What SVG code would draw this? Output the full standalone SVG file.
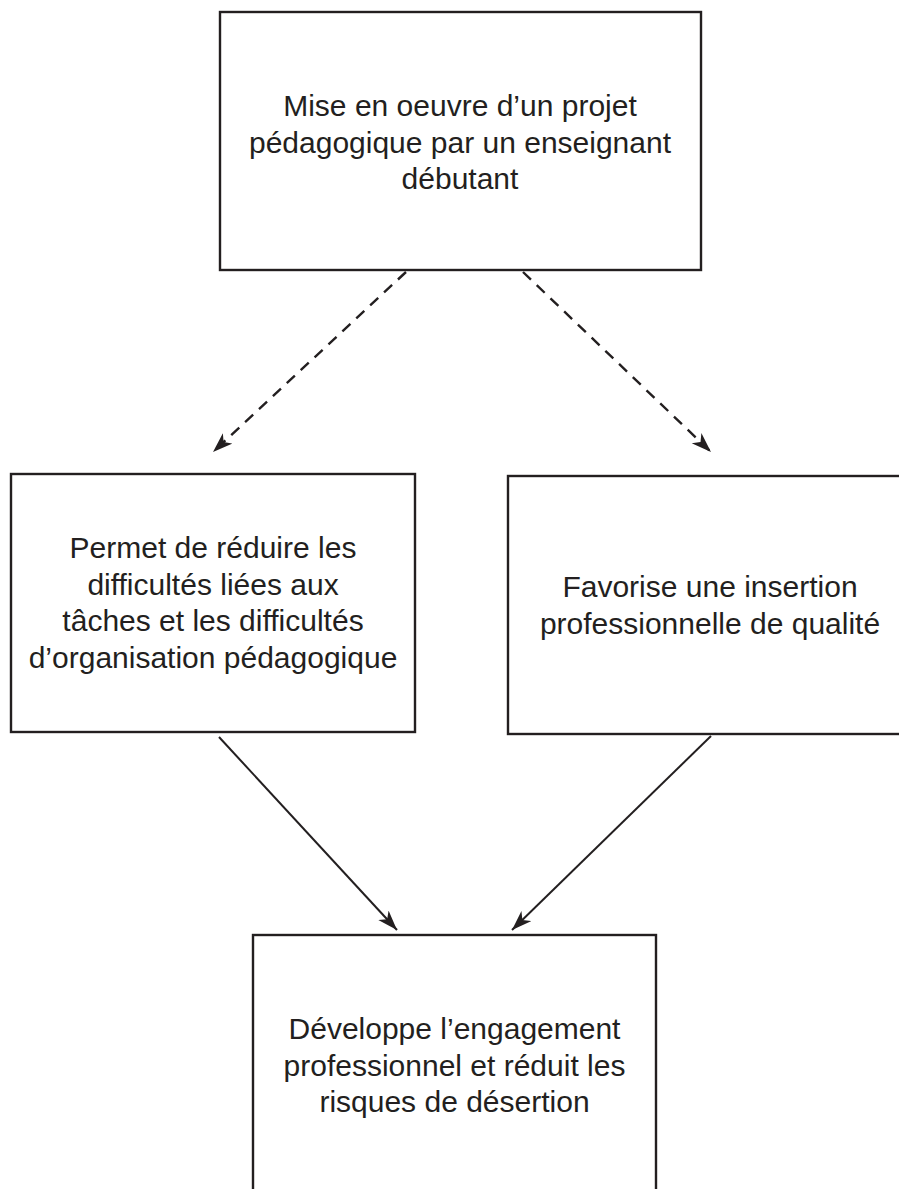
<svg xmlns="http://www.w3.org/2000/svg" width="899" height="1189" viewBox="0 0 899 1189">
<style>
.box{fill:#fff;stroke:#231f20;stroke-width:2.4}
.t{font-family:"Liberation Sans",Arial,sans-serif;font-size:30px;fill:#231f20;text-anchor:middle}
.c{fill:none;stroke:#231f20;stroke-width:2}
.d{stroke-dasharray:11 8;stroke-width:2.4}
</style>
<defs>
<marker id="ah" markerUnits="userSpaceOnUse" markerWidth="22" markerHeight="16" refX="20" refY="7.5" orient="auto">
<path d="M0,0.5 L20,7.5 L0,14.5 L5.5,7.5 z" fill="#231f20"/>
</marker>
</defs>
<g id="n1">
<rect class="box" x="220" y="12" width="481" height="258"/>
<text class="t"><tspan x="460" y="116">Mise en oeuvre d’un projet</tspan><tspan x="460" y="152.5">pédagogique par un enseignant</tspan><tspan x="460" y="189">débutant</tspan></text>
</g>
<g id="n2">
<rect class="box" x="11" y="474" width="404" height="258"/>
<text class="t"><tspan x="213" y="558">Permet de réduire les</tspan><tspan x="213" y="594.5">difficultés liées aux</tspan><tspan x="213" y="631">tâches et les difficultés</tspan><tspan x="213" y="667.5">d’organisation pédagogique</tspan></text>
</g>
<g id="n3">
<rect class="box" x="508" y="476" width="404" height="258"/>
<text class="t"><tspan x="710" y="597">Favorise une insertion</tspan><tspan x="710" y="633.5">professionnelle de qualité</tspan></text>
</g>
<g id="n4">
<rect class="box" x="253" y="935" width="403" height="270"/>
<text class="t"><tspan x="454.5" y="1039">Développe l’engagement</tspan><tspan x="454.5" y="1075.5">professionnel et réduit les</tspan><tspan x="454.5" y="1112">risques de désertion</tspan></text>
</g>
<g id="connectors">
<line class="c d" x1="406" y1="272" x2="213" y2="452" marker-end="url(#ah)"/>
<line class="c d" x1="523" y1="272" x2="711" y2="452" marker-end="url(#ah)"/>
<line class="c" x1="219" y1="737" x2="397" y2="930" marker-end="url(#ah)"/>
<line class="c" x1="711" y1="736" x2="512" y2="930" marker-end="url(#ah)"/>
</g>
</svg>
